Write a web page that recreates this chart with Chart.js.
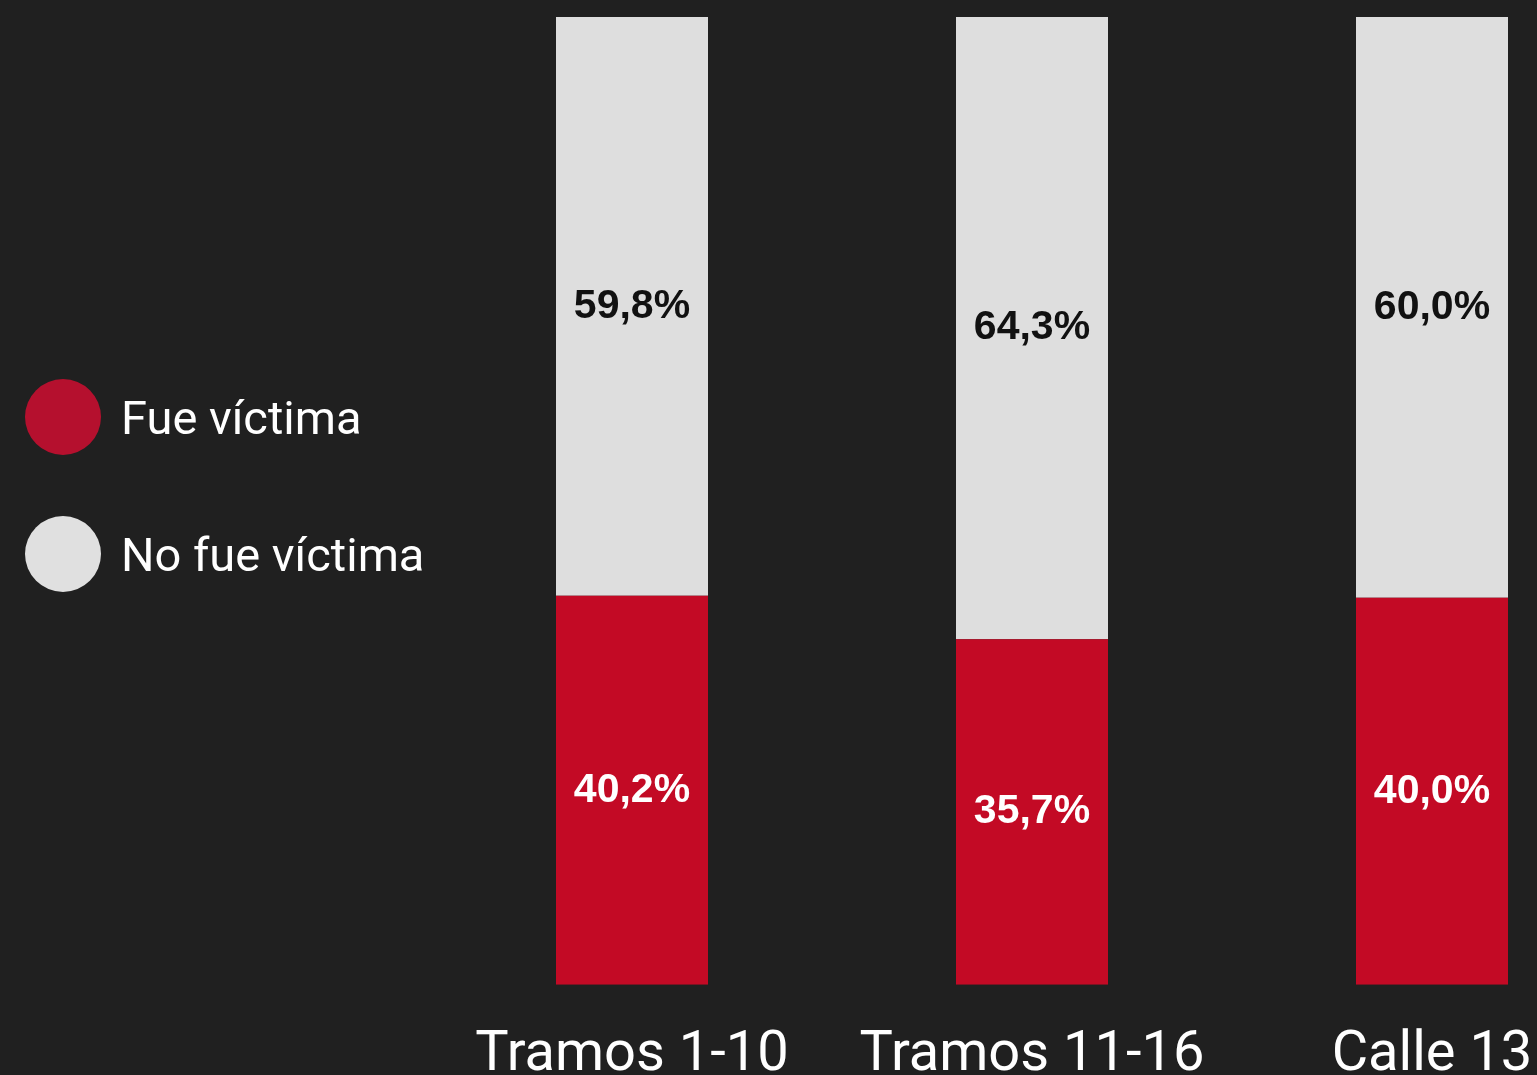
<!DOCTYPE html>
<html>
<head>
<meta charset="utf-8">
<script src="https://cdn.jsdelivr.net/npm/chart.js@4.4.1/dist/chart.umd.min.js"></script>
<style>
  html, body { margin: 0; padding: 0; background: #202020; overflow: hidden; width: 1537px; height: 1075px; }
  #wrap { position: absolute; left: 0; top: 0; width: 1640px; height: 1120px; }
  #legend { position: absolute; left: 25px; top: 379px; font-family: Roboto, sans-serif; color: #fff; font-size: 47px; }
  .item { display: flex; align-items: center; height: 76px; margin-bottom: 61px; }
  .dot { width: 76px; height: 76px; border-radius: 50%; margin-right: 20px; flex: none; }
</style>
</head>
<body>
<div id="wrap"><canvas id="chart" width="1640" height="1120"></canvas></div>
<div id="legend"></div>
<script>
// categories and % values
const categories = ["Tramos 1-10", "Tramos 11-16", "Calle 13"];
const fueVictima = [40.2, 35.7, 40.0];
const noFueVictima = [59.8, 64.3, 60.0];

const seriesNames = ["Fue víctima", "No fue víctima"];
const barColors = ["#c30a25", "#dedede"];
const legendColors = ["#b5102e", "#e0e0e0"];
const valueColors = ["#ffffff", "#111111"];

// html legend built from the series
const legend = document.getElementById("legend");
seriesNames.forEach(function (name, i) {
    const item = document.createElement("div");
    item.className = "item";
    item.innerHTML = '<span class="dot" style="background:' + legendColors[i] + '"></span>' + name;
    legend.appendChild(item);
});

// draws the % text in the middle of every segment
const valueLabels = {
    id: "valueLabels",
    afterDatasetsDraw(chart) {
        const ctx = chart.ctx;
        ctx.save();
        ctx.font = "bold 41px 'Liberation Sans', Arial, sans-serif";
        ctx.textAlign = "center";
        ctx.textBaseline = "middle";
        chart.data.datasets.forEach(function (ds, i) {
            chart.getDatasetMeta(i).data.forEach(function (bar, j) {
                ctx.fillStyle = valueColors[i];
                const txt = ds.data[j].toFixed(1).replace(".", ",") + "%";
                ctx.fillText(txt, bar.x, (bar.y + bar.base) / 2);
            });
        });
        ctx.restore();
    }
};

new Chart(document.getElementById("chart"), {
    type: "bar",
    data: {
        labels: categories,
        datasets: [
            { label: seriesNames[0], data: fueVictima, backgroundColor: barColors[0] },
            { label: seriesNames[1], data: noFueVictima, backgroundColor: barColors[1] }
        ]
    },
    options: {
        responsive: false,
        devicePixelRatio: 1,
        animation: false,
        layout: { padding: { left: 432, top: 17, right: 8, bottom: 0 } },
        datasets: { bar: { categoryPercentage: 1, barPercentage: 0.38 } },
        scales: {
            x: {
                stacked: true,
                grid: { display: false },
                border: { display: false },
                ticks: {
                    color: "#ffffff",
                    padding: 30,
                    font: { family: "Roboto", size: 56 }
                }
            },
            y: {
                stacked: true,
                display: false,
                min: 0,
                max: 100
            }
        },
        plugins: {
            legend: { display: false },
            tooltip: { enabled: false }
        }
    },
    plugins: [valueLabels]
});
</script>
</body>
</html>
